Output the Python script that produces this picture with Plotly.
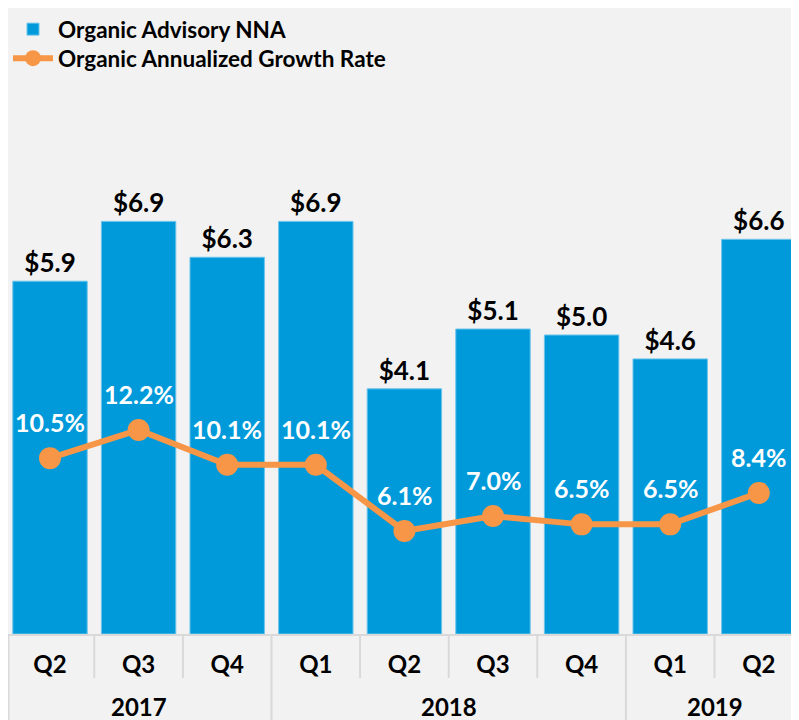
import plotly.graph_objects as go

years = ["2017", "2017", "2017", "2018", "2018", "2018", "2018", "2019", "2019"]
quarters = ["Q2", "Q3", "Q4", "Q1", "Q2", "Q3", "Q4", "Q1", "Q2"]
nna = [5.9, 6.9, 6.3, 6.9, 4.1, 5.1, 5.0, 4.6, 6.6]
growth = [10.5, 12.2, 10.1, 10.1, 6.1, 7.0, 6.5, 6.5, 8.4]

BLUE = "#009ADA"
ORANGE = "#F79646"
BG = "#F2F2F2"
GRID = "#D9D9D9"
FONT = "Lato"

W, H = 791, 712          # page has an 8px body margin
PLOT_H = 626
PITCH = 88.6
idx = list(range(len(quarters)))
x0 = -0.5 + 2.3 / PITCH
x1 = x0 + W / PITCH

fig = go.Figure()
fig.add_trace(go.Bar(
    x=idx, y=nna, name="Organic Advisory NNA",
    marker=dict(color=BLUE, line=dict(color="#6CC4EC", width=1)),
    text=[f"${v:.1f}" for v in nna], textposition="outside",
    textfont=dict(family=FONT, size=26, color="#000000", weight="bold"),
    cliponaxis=False, legend="legend",
))
fig.add_trace(go.Scatter(
    x=idx, y=growth, name="Organic Annualized Growth Rate", yaxis="y2",
    mode="lines+markers",
    line=dict(color=ORANGE, width=6),
    marker=dict(color=ORANGE, size=22),
    cliponaxis=False, legend="legend2",
))

for i, g in zip(idx, growth):
    fig.add_annotation(x=i, y=g, yref="y2", text=f"{g:.1f}%", showarrow=False,
                       yshift=36, font=dict(family=FONT, size=25, color="white", weight="bold"))

# year labels
ylist = []
for y in years:
    if y not in ylist:
        ylist.append(y)
for y in ylist:
    pos = [i for i, yy in zip(idx, years) if yy == y]
    fig.add_annotation(x=sum(pos) / len(pos), y=0, yref="paper", yshift=-72, yanchor="middle",
                       showarrow=False, text=y,
                       font=dict(family=FONT, size=24, color="#000000", weight="bold"))

# dividers
fig.add_shape(type="line", xref="paper", yref="paper", x0=0, x1=0, ysizemode="pixel",
              yanchor=0, y0=0, y1=-90, line=dict(color=GRID, width=3))
for i in idx[1:]:
    long_ = years[i] != years[i - 1]
    fig.add_shape(type="line", xref="x", yref="paper", x0=i - 0.5, x1=i - 0.5, ysizemode="pixel",
                  yanchor=0, y0=0, y1=-90 if long_ else -44, line=dict(color=GRID, width=2))

legfont = dict(family=FONT, size=22.5, color="#000000", weight="bold")
fig.update_layout(
    width=W, height=H,
    paper_bgcolor=BG, plot_bgcolor=BG,
    margin=dict(l=0, r=0, t=0, b=H - PLOT_H, autoexpand=False),
    bargap=0.16,
    showlegend=True,
    legend=dict(x=0, y=1, xanchor="left", yanchor="top",
                bgcolor="rgba(0,0,0,0)", font=legfont, itemwidth=40),
    legend2=dict(x=0, y=1 - 29 / PLOT_H, xanchor="left", yanchor="top",
                 bgcolor="rgba(0,0,0,0)", font=legfont, itemwidth=40),
    xaxis=dict(range=[x0, x1], tickvals=idx, ticktext=quarters,
               showgrid=False, zeroline=False, showline=True, linecolor=GRID, linewidth=2,
               ticks="", ticklabelstandoff=8,
               tickfont=dict(family=FONT, size=24, color="#000000", weight="bold")),
    yaxis=dict(range=[0, PLOT_H / 59.8], visible=False, showgrid=False),
    yaxis2=dict(range=[-0.12, PLOT_H / 16.56 - 0.12], overlaying="y", visible=False, showgrid=False),
    font=dict(family=FONT),
)

fig.write_html("out.html")
